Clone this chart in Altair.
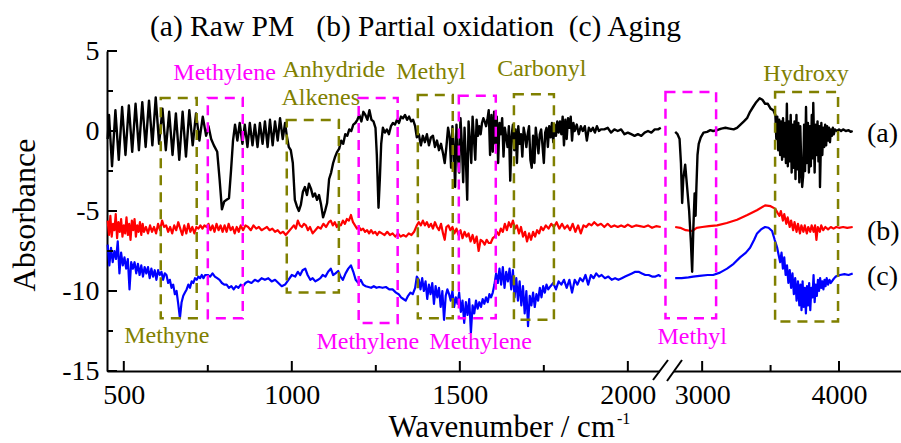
import altair as alt
import pandas as pd

# ---------------- data (wavenumber, absorbance) ----------------
BLACK_L = [(452,-0.5),(456,1.0),(465,-2.2),(475,1.3),(485,-1.8),(495,1.5),(505,-1.5),(515,1.6),(525,-1.3),(535,1.7),
 (545,-1.2),(555,1.8),(565,-1.0),(575,1.9),(585,-0.9),(595,2.1),(605,-0.8),(615,1.4),(625,-1.2),(635,1.2),(645,-1.5),
 (655,1.1),(665,-1.8),(675,1.2),(685,-1.6),(695,1.3),(705,-0.9),(715,1.1),(725,-0.6),(735,0.9),(745,-0.3),(752,0.3),
 (760,-0.5),(768,-0.9),(778,-1.3),(785,-3.0),(792,-4.9),(799,-4.4),(806,-4.3),(813,-4.2),(819,-2.5),(825,-0.6),
 (831,0.4),(838,-0.6),(845,0.5),(853,-0.8),(860,0.4),(868,-1.0),(875,0.5),(883,-0.9),(890,0.4),(898,-1.0),(905,0.5),
 (913,-0.8),(920,0.6),(928,-1.0),(935,0.7),(943,-0.9),(950,0.6),(958,-0.6),(965,0.8),(973,-0.5),(980,0.5),
 (985,-0.3),(991,-1.0),(997,-1.2),(1003,-2.0),(1009,-4.3),(1015,-4.7),(1021,-5.0),(1027,-4.6),(1033,-3.8),
 (1039,-3.5),(1045,-4.0),(1051,-3.3),(1057,-3.6),(1063,-4.1),(1069,-3.9),(1075,-4.3),(1081,-4.0),(1087,-4.6),(1093,-5.4),
 (1099,-5.0),(1105,-4.5),(1111,-3.0),(1117,-2.6),(1123,-2.0),(1129,-1.6),(1135,-1.3),(1141,-1.1),(1147,-0.6),(1153,-0.8),
 (1159,-0.2),(1165,-0.3),(1171,0.1),(1177,0.0),(1183,0.4),(1189,0.5),(1195,0.7),(1201,1.0),(1207,0.6),(1213,1.2),
 (1219,1.0),(1225,0.7),(1231,1.3),(1237,0.7),(1243,0.6),(1249,0.2),(1253,-1.5),(1258,-4.8),(1262,-3.0),(1266,-0.8),
 (1271,0.2),(1277,-0.1),(1283,0.1),(1289,-0.2),(1295,0.3),(1301,0.5),(1307,0.4),(1313,0.7),(1319,0.5),(1325,0.9),
 (1331,0.8),(1337,1.0),(1343,0.7),(1349,0.9),(1355,0.6),(1361,0.7),(1367,0.3),(1372,-0.4),(1378,-0.2),(1384,-0.9),
 (1390,-0.3),(1396,-0.7),(1402,-0.2),(1408,-0.9),(1414,-0.4),(1420,-0.3),(1426,-1.0),(1432,-0.6),(1438,-1.2),(1444,-0.8),
 (1450,-1.4),(1455,-2.0),(1460,-1.0),(1465,0.2),(1470,-0.4),(1474,-2.3),(1478,0.3),(1482,-1.0),(1486,-3.5),(1490,0.4),
 (1494,-1.5),(1498,-2.6),(1502,0.8),(1506,-0.8),(1510,-3.2),(1514,0.2),(1518,-1.8),(1522,-4.3),(1526,0.6),(1530,-0.6),
 (1534,-2.0),(1538,0.9),(1542,-0.5),(1546,-1.8),(1550,0.7),(1554,-0.3),(1558,0.3),(1562,-0.2),(1566,0.5),(1570,0.8),
 (1574,0.6),(1578,0.3),(1582,0.7),(1586,1.3),(1590,-1.5),(1594,1.0),(1598,-1.3),(1602,1.2),(1606,-0.8),(1610,0.9),
 (1614,-2.0),(1618,0.5),(1622,-0.2),(1626,0.8),(1630,-1.6),(1634,0.2),(1638,-0.4),(1642,-1.0),(1646,0.3),(1650,-3.1),
 (1654,-0.3),(1658,0.4),(1662,-1.2),(1666,0.1),(1670,-2.0),(1674,0.3),(1678,-0.8),(1682,-0.2),(1686,-1.6),(1690,0.2),
 (1694,-0.3),(1698,-1.0),(1702,-0.2),(1706,0.3),(1710,-1.8),(1714,-2.3),(1718,-0.3),(1722,-2.0),(1726,0.2),(1730,-0.6),
 (1734,-1.4),(1738,-0.2),(1742,0.1),(1746,-0.9),(1750,-2.0),(1754,-0.1),(1758,0.2),(1762,-1.0),(1766,0.3),(1770,-0.4),
 (1774,0.5),(1778,-0.7),(1782,0.4),(1786,-0.3),(1790,0.6),(1794,-0.1),(1798,0.6),(1802,-0.2),(1806,0.9),(1810,-0.9),
 (1814,0.7),(1818,-0.5),(1822,0.8),(1826,0.2),(1830,0.9),(1834,-0.6),(1838,0.5),(1842,0.0),(1848,0.4),(1854,-0.2),
 (1860,0.3),(1866,0.0),(1872,0.3),(1878,-0.6),(1884,0.2),(1890,0.0),(1896,0.2),(1902,-0.1),(1908,0.3),(1914,0.0),
 (1920,0.1),(1930,0.1),(1940,0.2),(1950,-0.1),(1960,0.1),(1970,0.0),(1980,0.1),(1990,-0.2),(2000,-0.1),(2010,-0.2),
 (2020,-0.3),(2030,-0.2),(2040,-0.3),(2050,-0.1),(2060,0.0),(2070,-0.1),(2080,0.1),(2090,0.1),(2098,0.2)]

BLACK_R = [(2803,-0.06),(2820,-0.2),(2835,-0.5),(2845,-2.0),(2854,-4.5),(2862,-3.0),(2876,-2.1),(2890,-3.5),(2905,-5.0),
 (2918,-7.0),(2927,-8.8),(2936,-6.0),(2945,-3.9),(2952,-5.3),(2958,-3.5),(2966,-1.5),(2975,-0.8),(2990,-0.4),(3010,-0.1),
 (3036,-0.05),(3060,0.05),(3080,0.0),(3109,0.05),(3140,0.15),(3170,0.2),(3200,0.15),(3230,0.1),(3255,0.2),(3280,0.4),
 (3305,0.6),(3328,0.8),(3350,1.2),(3372,1.5),(3395,1.8),(3420,2.05),(3440,1.95),(3460,1.7),(3480,1.7),(3500,1.4),
 (3520,1.3),(3535,1.0),(3542,-0.5),(3549,0.9),(3556,-1.2),(3563,0.7),(3570,-1.5),(3577,0.6),(3584,-1.8),(3591,0.8),
 (3598,-1.6),(3605,0.5),(3612,-2.0),(3619,1.7),(3626,-2.2),(3633,0.6),(3640,-1.9),(3647,1.0),(3654,-2.6),(3661,0.4),
 (3668,-2.3),(3675,0.6),(3682,-3.0),(3689,1.0),(3696,-2.4),(3703,0.5),(3710,-3.2),(3717,0.3),(3724,-2.0),(3731,-3.5),
 (3738,-2.8),(3745,0.4),(3752,-2.5),(3759,1.5),(3766,-2.0),(3773,0.5),(3780,-2.6),(3787,0.3),(3794,-2.2),(3801,1.0),
 (3808,-1.7),(3812,1.75),(3822,-2.6),(3829,0.4),(3836,-1.5),(3843,0.6),(3850,-1.9),(3857,0.3),(3861,-3.5),(3871,0.5),
 (3878,-1.5),(3885,0.2),(3892,-1.0),(3899,0.4),(3906,-0.9),(3913,0.3),(3920,-0.6),(3927,0.2),(3934,-0.7),(3941,0.1),
 (3948,-0.3),(3955,0.2),(3962,-0.2),(3970,0.1),(3985,0.0),(4000,0.1),(4015,0.0),(4030,0.1),(4050,0.0),(4070,0.05),
 (4085,-0.05),(4100,0.0)]

RED_L = [(452,-5.6),(456,-6.5),(460,-5.3),(464,-6.6),(468,-5.8),(472,-6.2),(476,-5.2),(480,-6.7),(484,-5.7),(488,-6.3),
 (492,-5.5),(496,-6.6),(500,-5.9),(504,-6.4),(508,-5.4),(512,-6.5),(516,-5.8),(520,-6.8),(524,-5.6),(528,-6.2),
 (532,-5.5),(536,-6.6),(540,-5.9),(544,-6.3),(548,-5.7),(552,-6.5),(556,-5.8),(560,-6.3),(566,-6.0),(572,-6.4),
 (578,-5.9),(584,-6.3),(590,-6.0),(596,-6.4),(602,-5.8),(608,-6.2),(614,-5.6),(620,-6.0),(626,-5.9),(632,-6.3),
 (638,-6.0),(644,-6.4),(650,-5.9),(656,-6.2),(662,-5.7),(668,-6.1),(674,-6.5),(680,-5.9),(686,-6.4),(692,-5.8),
 (698,-6.3),(704,-6.0),(710,-6.4),(716,-6.0),(722,-6.1),(728,-5.9),(734,-6.1),(740,-5.9),(746,-6.0),(752,-5.8),
 (758,-6.2),(764,-5.9),(770,-6.3),(776,-5.8),(782,-6.2),(788,-5.9),(794,-6.3),(800,-5.9),(806,-6.3),(812,-5.8),
 (818,-6.2),(824,-6.0),(830,-6.4),(836,-6.0),(842,-6.3),(848,-5.9),(855,-6.2),(862,-5.9),(870,-6.0),(878,-6.2),
 (886,-5.9),(894,-6.1),(902,-6.0),(910,-6.2),(918,-6.1),(926,-6.0),(934,-6.2),(942,-6.1),(950,-6.3),(958,-6.2),
 (966,-6.4),(974,-6.3),(982,-6.5),(990,-6.3),(998,-6.1),(1006,-5.9),(1012,-6.1),(1018,-5.6),(1024,-5.9),(1030,-6.0),
 (1036,-5.8),(1042,-5.9),(1048,-6.2),(1054,-6.0),(1062,-6.4),(1070,-6.2),(1078,-6.0),(1086,-6.1),(1094,-5.8),
 (1102,-6.0),(1110,-5.7),(1116,-5.6),(1122,-5.9),(1128,-5.7),(1134,-6.0),(1140,-5.8),(1146,-5.9),(1152,-5.6),
 (1158,-5.8),(1164,-5.5),(1170,-5.6),(1176,-5.25),(1182,-5.7),(1188,-5.9),(1194,-6.1),(1200,-6.0),(1206,-6.2),
 (1212,-6.1),(1218,-6.3),(1224,-6.2),(1230,-6.4),(1236,-6.2),(1242,-6.4),(1248,-6.3),(1254,-6.5),(1260,-6.3),
 (1268,-6.4),(1276,-6.5),(1284,-6.3),(1292,-6.5),(1300,-6.4),(1308,-6.6),(1316,-6.4),(1324,-6.6),(1332,-6.5),
 (1340,-6.6),(1348,-6.4),(1356,-6.5),(1364,-6.3),(1372,-5.9),(1378,-5.7),(1384,-5.9),(1390,-5.6),(1396,-5.9),
 (1402,-5.7),(1408,-6.0),(1414,-5.8),(1420,-6.1),(1426,-5.7),(1432,-6.0),(1438,-6.2),(1444,-5.8),(1450,-6.4),
 (1455,-6.8),(1460,-6.0),(1466,-5.9),(1472,-6.2),(1478,-6.0),(1484,-6.4),(1490,-6.1),(1496,-6.5),(1502,-6.2),
 (1508,-6.7),(1514,-6.3),(1520,-6.6),(1526,-6.4),(1532,-6.9),(1538,-6.5),(1544,-7.0),(1550,-6.6),(1556,-7.5),
 (1562,-6.8),(1568,-6.9),(1574,-7.1),(1580,-6.8),(1586,-7.0),(1592,-7.0),(1598,-6.7),(1604,-6.6),(1610,-6.3),
 (1616,-6.5),(1622,-6.1),(1628,-6.3),(1634,-5.8),(1640,-6.2),(1646,-5.7),(1652,-6.0),(1658,-5.6),(1664,-6.1),
 (1670,-5.9),(1676,-6.4),(1682,-6.0),(1688,-6.6),(1694,-6.3),(1700,-6.9),(1706,-6.4),(1712,-6.8),(1718,-6.3),
 (1724,-6.6),(1730,-6.2),(1736,-6.4),(1742,-6.0),(1748,-6.2),(1756,-5.9),(1764,-6.1),(1772,-5.8),(1780,-6.0),
 (1788,-5.7),(1796,-6.1),(1804,-5.8),(1812,-6.1),(1820,-5.9),(1828,-6.2),(1836,-5.8),(1844,-6.3),(1852,-5.9),
 (1860,-6.4),(1868,-5.9),(1876,-6.0),(1884,-5.8),(1892,-5.9),(1900,-5.7),(1910,-5.9),(1920,-5.8),(1930,-6.0),
 (1940,-5.8),(1950,-6.0),(1960,-5.9),(1970,-6.0),(1980,-5.9),(1990,-6.0),(2000,-5.85),(2012,-6.0),(2024,-5.9),
 (2036,-5.95),(2048,-6.0),(2060,-5.9),(2072,-6.05),(2084,-5.95),(2098,-6.0)]

RED_R = [(2803,-6.0),(2840,-6.05),(2880,-6.2),(2927,-6.25),(2960,-6.05),(3000,-6.0),(3050,-5.95),(3109,-5.9),
 (3180,-5.75),(3255,-5.55),(3330,-5.25),(3400,-4.95),(3460,-4.65),(3500,-4.7),(3533,-4.85),(3550,-5.1),(3565,-5.3),
 (3575,-5.0),(3590,-5.6),(3600,-5.2),(3615,-5.8),(3625,-5.4),(3640,-6.0),(3650,-5.6),(3665,-6.2),(3675,-5.7),
 (3690,-6.3),(3700,-5.8),(3715,-6.4),(3725,-5.9),(3740,-6.3),(3750,-5.9),(3765,-6.4),(3775,-6.0),(3790,-6.3),
 (3800,-5.9),(3815,-6.3),(3825,-5.9),(3835,-6.8),(3845,-6.0),(3860,-6.3),(3870,-5.9),(3885,-6.2),(3900,-6.0),
 (3920,-6.15),(3940,-6.0),(3960,-6.1),(3980,-6.0),(4000,-6.05),(4030,-6.0),(4060,-6.05),(4100,-6.0)]

BLUE_L = [(452,-7.1),(457,-8.4),(462,-7.3),(467,-8.2),(472,-7.5),(477,-8.0),(482,-6.9),(487,-8.9),(492,-7.6),(497,-8.4),
 (502,-7.9),(507,-8.6),(512,-8.0),(517,-9.9),(522,-8.2),(527,-8.6),(532,-8.2),(537,-8.9),(542,-8.3),(547,-9.0),
 (552,-8.4),(557,-9.1),(562,-8.5),(567,-8.9),(572,-8.5),(577,-9.2),(582,-8.6),(587,-9.1),(592,-8.7),(597,-9.3),
 (602,-8.7),(607,-9.0),(612,-8.8),(617,-9.3),(622,-8.9),(627,-9.0),(632,-9.5),(637,-9.3),(642,-9.8),(647,-9.6),
 (652,-10.2),(657,-10.0),(662,-10.8),(667,-11.7),(672,-10.7),(677,-10.3),(682,-10.1),(687,-9.9),(692,-9.6),(697,-9.8),
 (702,-9.4),(707,-9.5),(712,-9.2),(717,-9.3),(722,-9.1),(727,-9.2),(732,-9.0),(737,-9.2),(742,-9.0),(750,-9.0),
 (757,-9.1),(764,-8.9),(771,-9.1),(778,-9.2),(785,-9.3),(792,-9.5),(799,-9.6),(806,-9.6),(813,-9.8),(820,-9.7),
 (827,-9.9),(834,-9.7),(841,-9.8),(848,-9.6),(855,-9.7),(862,-9.5),(870,-9.4),(880,-9.5),(890,-9.3),(900,-9.4),
 (910,-9.2),(920,-9.3),(930,-9.2),(940,-9.4),(950,-9.3),(960,-9.5),(970,-9.7),(980,-9.6),(990,-9.3),(1000,-9.0),
 (1010,-9.1),(1018,-8.8),(1025,-9.0),(1032,-8.7),(1040,-8.6),(1047,-9.0),(1055,-9.3),(1062,-9.2),(1070,-9.4),
 (1078,-9.3),(1085,-9.2),(1092,-9.0),(1100,-9.1),(1108,-8.8),(1116,-8.6),(1123,-9.0),(1130,-8.9),(1138,-8.75),
 (1145,-9.1),(1152,-9.3),(1160,-8.9),(1168,-8.6),(1176,-8.4),(1183,-8.8),(1190,-9.3),(1198,-9.5),(1205,-9.3),
 (1212,-9.6),(1220,-9.7),(1228,-9.75),(1236,-9.8),(1244,-9.7),(1252,-9.8),(1260,-9.75),(1270,-9.8),(1280,-9.75),
 (1290,-9.9),(1300,-9.9),(1310,-10.1),(1318,-10.2),(1325,-10.4),(1332,-10.5),(1339,-10.6),(1346,-10.3),(1353,-10.1),
 (1360,-10.2),(1367,-9.8),(1372,-9.1),(1378,-9.3),(1383,-9.9),(1388,-9.2),(1393,-10.0),(1398,-9.4),(1403,-10.5),
 (1408,-9.6),(1413,-10.2),(1418,-9.5),(1423,-10.8),(1428,-9.7),(1433,-10.4),(1438,-9.8),(1443,-11.0),(1448,-10.0),
 (1453,-11.8),(1458,-10.3),(1463,-9.9),(1468,-10.2),(1473,-10.6),(1478,-10.0),(1483,-11.0),(1488,-10.4),(1493,-10.8),
 (1498,-10.1),(1503,-11.3),(1508,-10.6),(1513,-12.0),(1518,-10.7),(1523,-11.5),(1528,-10.5),(1533,-12.6),(1538,-10.9),
 (1543,-11.4),(1548,-10.6),(1553,-11.1),(1558,-10.7),(1563,-11.0),(1568,-10.5),(1573,-10.8),(1578,-10.4),(1583,-10.7),
 (1588,-10.2),(1593,-10.4),(1598,-10.1),(1603,-9.6),(1608,-8.9),(1613,-9.5),(1618,-8.6),(1623,-9.6),(1628,-8.5),
 (1633,-9.8),(1638,-8.8),(1643,-9.4),(1648,-8.6),(1653,-9.9),(1658,-8.7),(1663,-10.4),(1668,-9.2),(1673,-10.6),
 (1678,-9.4),(1683,-10.9),(1688,-9.7),(1693,-11.4),(1698,-10.0),(1703,-12.2),(1708,-10.3),(1713,-10.9),(1718,-10.1),
 (1723,-11.0),(1728,-10.2),(1733,-10.6),(1738,-9.8),(1743,-10.4),(1748,-9.7),(1753,-10.1),(1758,-9.6),(1763,-9.9),
 (1770,-9.7),(1778,-9.5),(1786,-9.9),(1794,-9.4),(1802,-9.6),(1810,-9.3),(1818,-9.8),(1826,-9.3),(1834,-10.1),
 (1842,-9.3),(1850,-9.6),(1858,-9.2),(1866,-9.4),(1874,-9.0),(1882,-9.6),(1890,-9.0),(1898,-9.2),(1906,-8.9),
 (1914,-9.1),(1922,-9.0),(1932,-9.2),(1942,-9.1),(1952,-9.3),(1962,-9.2),(1972,-9.3),(1982,-9.2),(1992,-9.1),
 (2002,-9.0),(2012,-8.9),(2022,-8.8),(2032,-8.8),(2042,-8.9),(2052,-9.0),(2062,-9.0),(2072,-9.1),(2082,-9.1),
 (2092,-9.0),(2098,-9.1)]

BLUE_R = [(2803,-9.2),(2850,-9.2),(2900,-9.15),(2934,-9.1),(2980,-9.05),(3040,-9.0),(3080,-9.0),(3130,-8.85),
 (3182,-8.6),(3230,-8.3),(3277,-7.9),(3320,-7.6),(3350,-7.3),(3380,-6.8),(3401,-6.4),(3430,-6.15),(3460,-6.0),
 (3485,-6.05),(3511,-6.25),(3530,-6.8),(3547,-7.25),(3560,-7.8),(3570,-8.2),(3580,-7.6),(3590,-8.6),(3600,-7.9),
 (3610,-9.0),(3620,-8.4),(3630,-9.5),(3640,-8.7),(3650,-9.8),(3660,-8.9),(3670,-10.2),(3680,-9.2),(3690,-10.6),
 (3700,-9.4),(3710,-10.9),(3718,-9.6),(3726,-11.2),(3734,-9.4),(3742,-11.0),(3750,-9.8),(3758,-11.4),(3766,-9.7),
 (3774,-10.9),(3782,-9.5),(3790,-11.2),(3798,-9.8),(3806,-10.4),(3814,-9.0),(3822,-10.7),(3830,-9.6),(3838,-10.3),
 (3846,-9.3),(3854,-10.0),(3862,-9.2),(3870,-9.8),(3878,-9.4),(3886,-9.9),(3894,-9.3),(3902,-9.7),(3910,-9.2),
 (3920,-9.6),(3930,-9.3),(3940,-9.5),(3956,-9.3),(3975,-9.1),(4007,-9.0),(4040,-8.95),(4070,-9.0),(4100,-8.9)]

# annotation boxes (wavenumber span, absorbance span)
BOX_X1 = [610, 985, 1375, 1661, 3533, 750, 1199, 1497, 2732]
BOX_X2 = [717, 1140, 1479, 1780, 3993, 854, 1315, 1607, 3102]
BOX_TOP = [2.06, 0.69, 2.25, 2.3, 2.44, 2.06, 2.06, 2.2, 2.44]
BOX_BOT = [-11.7, -10.1, -11.7, -11.8, -11.9, -11.7, -12.0, -11.7, -11.7]
BOX_COL = ["olive"] * 5 + ["magenta"] * 4

LAB_TEXT = ["Methylene", "Anhydride", "Alkenes", "Methyl", "Carbonyl", "Hydroxy",
            "Methyne", "Methylene", "Methylene", "Methyl"]
LAB_WN = [800, 1125, 1086, 1414, 1744, 3759, 628, 1226, 1562, 2927]
LAB_V = [3.6, 3.8, 2.06, 3.7, 3.9, 3.56, -12.8, -13.2, -13.2, -12.9]
LAB_COL = ["magenta", "olive", "olive", "olive", "olive", "olive",
           "olive", "magenta", "magenta", "magenta"]

SERIES_TAG = ["(a)", "(b)", "(c)"]
SERIES_TAG_V = [-0.19, -6.3, -9.1]
SERIES_TAG_WN = [4204, 4204, 4204]

TITLE = "(a) Raw PM\u00a0\u00a0\u00a0(b) Partial oxidation\u00a0\u00a0(c) Aging"

X_MAJOR = [500, 1000, 1500, 2000, 3000, 4000]
X_MINOR = [750, 1250, 1750, 3500]
Y_MAJOR = [-15, -10, -5, 0, 5]
Y_MINOR = [-12.5, -7.5, -2.5, 2.5]

# ---------------- build ----------------
W, H = 794, 320
FONT = "Liberation Serif"
COLORS = {"olive": "#808000", "magenta": "#ff00ff"}

rows = []
for name, seg, pts in [("a", "L", BLACK_L), ("a", "R", BLACK_R), ("b", "L", RED_L),
                       ("b", "R", RED_R), ("c", "L", BLUE_L), ("c", "R", BLUE_R)]:
    for w, v in pts:
        rows.append({"wn": w, "v": v, "series": name, "seg": seg})
spec = pd.DataFrame(rows)

x_scale = alt.Scale(type="linear", domain=[450, 2110, 2730, 4453],
                    range=[0, 557.8, 558.2, W], zero=False, nice=False)
y_scale = alt.Scale(domain=[-15, 5], zero=False, nice=False)
x_axis = alt.Axis(values=X_MAJOR, ticks=False, grid=False, title=None, labelFont=FONT,
                  labelFontSize=28, labelColor="black", labelPadding=10, domainColor="black",
                  domainWidth=2, labelFlush=False, labelOverlap=False, labelExpr="datum.value + ''")
y_axis = alt.Axis(values=Y_MAJOR, ticks=False, grid=False, title=None, labelFont=FONT,
                  labelFontSize=28, labelColor="black", labelPadding=8, domainColor="black",
                  domainWidth=2, labelOverlap=False, labelExpr="datum.value + ''")

X = lambda f="wn": alt.X(f"{f}:Q", scale=x_scale, axis=x_axis)
Y = lambda f="v": alt.Y(f"{f}:Q", scale=y_scale, axis=y_axis)

def line_layer(s, color, sw):
    return alt.Chart(spec).transform_filter(alt.datum.series == s).mark_line(
        color=color, strokeWidth=sw, strokeJoin="round").encode(x=X(), y=Y(), detail="seg:N")

lines = [line_layer("b", "#ff0000", 2.2), line_layer("c", "#0000ff", 2.2), line_layer("a", "#000000", 2.4)]

boxes_df = pd.DataFrame({"x1": BOX_X1, "x2": BOX_X2, "top": BOX_TOP, "bot": BOX_BOT,
                         "col": [COLORS[c] for c in BOX_COL]})
boxes = alt.Chart(boxes_df).mark_rect(fillOpacity=0, strokeWidth=2.5, strokeDash=[10, 7]).encode(
    x=X("x1"), x2="x2:Q", y=Y("top"), y2="bot:Q", stroke=alt.Stroke("col:N", scale=None))

labs_df = pd.DataFrame({"t": LAB_TEXT, "wn": LAB_WN, "v": LAB_V, "col": [COLORS[c] for c in LAB_COL]})
labs = alt.Chart(labs_df).mark_text(font=FONT, fontSize=24, align="center", baseline="middle").encode(
    x=X(), y=Y(), text="t:N", color=alt.Color("col:N", scale=None))

tags_df = pd.DataFrame({"t": SERIES_TAG, "wn": SERIES_TAG_WN, "v": SERIES_TAG_V})
tags = alt.Chart(tags_df).mark_text(font=FONT, fontSize=28, align="left", baseline="middle",
                                    color="black").encode(x=X(), y=Y(), text="t:N")

ymaj = alt.Chart(pd.DataFrame({"v": Y_MAJOR})).mark_rule(color="black", strokeWidth=2).encode(
    y=Y(), x=alt.value(0), x2=alt.value(10))
ymin = alt.Chart(pd.DataFrame({"v": Y_MINOR})).mark_rule(color="black", strokeWidth=2).encode(
    y=Y(), x=alt.value(0), x2=alt.value(6))
xmaj = alt.Chart(pd.DataFrame({"wn": X_MAJOR})).mark_rule(color="black", strokeWidth=2).encode(
    x=X(), y=alt.value(H), y2=alt.value(H - 10))
xmin = alt.Chart(pd.DataFrame({"wn": X_MINOR})).mark_rule(color="black", strokeWidth=2).encode(
    x=X(), y=alt.value(H), y2=alt.value(H - 6))

one = pd.DataFrame({"k": [0]})
gap = alt.Chart(one).mark_rule(color="white", strokeWidth=5).encode(
    x=alt.value(553), x2=alt.value(567), y=alt.value(H), y2=alt.value(H))
slash1 = alt.Chart(one).mark_rule(color="black", strokeWidth=2).encode(
    x=alt.value(546), x2=alt.value(561), y=alt.value(H + 9), y2=alt.value(H - 11))
slash2 = alt.Chart(one).mark_rule(color="black", strokeWidth=2).encode(
    x=alt.value(560), x2=alt.value(575), y=alt.value(H + 10), y2=alt.value(H - 11))

title = alt.Chart(one).mark_text(font=FONT, fontSize=29.5, align="left", baseline="alphabetic",
                                 color="black", text=TITLE).encode(
    x=alt.value(43), y=alt.value(-15))
ytitle = alt.Chart(one).mark_text(font=FONT, fontSize=32, align="center", baseline="alphabetic",
                                  angle=270, color="black", text="Absorbance").encode(
    x=alt.value(-72), y=alt.value(164))
xtitle = alt.Chart(one).mark_text(font=FONT, fontSize=31, align="right", baseline="alphabetic",
                                  color="black", text="Wavenumber / cm").encode(
    x=alt.value(508), y=alt.value(386))
xsup = alt.Chart(one).mark_text(font=FONT, fontSize=16, align="left", baseline="alphabetic",
                                color="black", text="-1").encode(
    x=alt.value(510), y=alt.value(373))

chart = alt.layer(*lines, boxes, labs, tags, ymaj, ymin, xmaj, xmin, gap, slash1, slash2,
                  title, ytitle, xtitle, xsup).properties(
    width=W, height=H,
    autosize=alt.AutoSizeParams(type="none"),
    padding={"left": 107, "top": 51, "right": 0, "bottom": 72},
    background="white",
).configure_view(stroke=None)

chart.save("out.html", embed_options={"renderer": "svg", "actions": False})
